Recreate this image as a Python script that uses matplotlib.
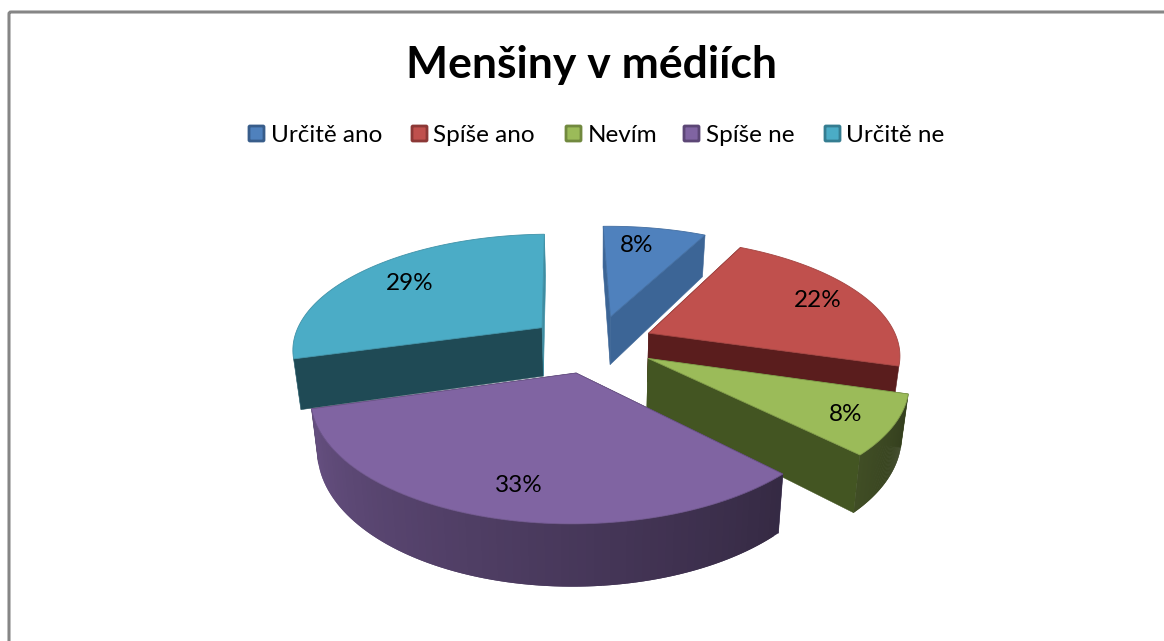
"""Exploded 3D pie: Menšiny v médiích."""

import numpy as np
import matplotlib
matplotlib.use("Agg")
import matplotlib.pyplot as plt
from matplotlib.patches import Polygon, FancyBboxPatch

title = "Menšiny v médiích"
categories = ["Určitě ano", "Spíše ano", "Nevím", "Spíše ne", "Určitě ne"]
values = [8, 22, 8, 33, 29]

top_colors = ["#4f81bd", "#c0504d", "#9bbb59", "#8064a2", "#4bacc6"]
edge_colors = ["#385d8a", "#8c3836", "#71893f", "#5c4776", "#357d91"]
cut_colors = ["#3c6596", "#5a1d1d", "#435522", "#3a2d50", "#1f4a55"]

# back to front
draw_order = [0, 4, 1, 2, 3]

# projection of the pie plane on to the picture, in pixels
CX, CY = 597, 349
R_X, R_Y = 252, 116
PERSP = 0.17
HEIGHT = 50
TAPER = 0.024
START_ANGLE = -1.5
LABEL_R = 0.68
# how far each slice is pulled out, in plane units
slice_offset = [(0.056, 0.29), (0.21, 0.14), (0.20, -0.08), (-0.08, -0.20), (-0.225, 0.19)]
# nudges of the percent labels, in pixels
label_shift = [(-5, -8), (24, -4), (36, 12), (-4, 20), (-10, -3)]
# the side wall only shows on this arc of the rim
WALL_ARC = (106, 255)

plt.rcParams["font.family"] = ["Lato", "DejaVu Sans"]


def project(x, y, z=0.0):
    """Plane coords (x right, y back, z 0..1 downward) to picture pixels."""
    s = 1 / (1 + PERSP * y)
    px = CX + R_X * x * s * (1 - TAPER * z)
    py = CY - R_Y * y * s + HEIGHT * z * s
    return px, py


def wall_shade(deg):
    # side wall gets darker from the left round to the right
    return float(np.clip(0.42 + (deg - 137) / 118 * 0.38, 0.3, 0.85))


def darken(color, f):
    rgb = np.array(matplotlib.colors.to_rgb(color))
    return tuple(rgb * f)


fig = plt.figure(figsize=(11.64, 6.41), dpi=100)
ax = fig.add_axes([0, 0, 1, 1])
ax.set_xlim(0, 1164)
ax.set_ylim(641, 0)
ax.axis("off")

# chart frame, runs off the right and bottom of the picture
ax.add_patch(FancyBboxPatch((9, 12), 1300, 800, boxstyle="round,pad=0,rounding_size=2",
                            fc="white", ec="#868686", lw=2.2, zorder=0))

ax.text(591, 65, title, fontsize=32, fontweight="bold", ha="center", va="center", color="black")

# legend
legend_swatch_x = [248, 411, 565, 683, 824]
legend_text_x = [271, 433, 588, 706, 846]
for i, name in enumerate(categories):
    ax.add_patch(FancyBboxPatch((legend_swatch_x[i] + 1, 126), 15, 15,
                                boxstyle="round,pad=0,rounding_size=1",
                                fc=top_colors[i], ec=edge_colors[i], lw=2.0, zorder=3))
    ax.text(legend_text_x[i], 136, name, fontsize=17.5, ha="left", va="center", color="black")

# slices
fractions = np.array(values) / sum(values)
edges = START_ANGLE + np.concatenate([[0], np.cumsum(fractions) * 360])
z = 10
for i in draw_order:
    a0, a1 = edges[i], edges[i + 1]
    ox, oy = slice_offset[i]
    th = np.linspace(a0, a1, 80)
    rx = ox + np.sin(np.radians(th))
    ry = oy + np.cos(np.radians(th))

    # cut faces; the last slice's closing face is only a lit sliver
    for j in (0, -1):
        col = cut_colors[i]
        if i == len(values) - 1 and j == -1:
            col = darken(top_colors[i], 0.82)
        quad = [project(ox, oy, 0), project(rx[j], ry[j], 0),
                project(rx[j], ry[j], 1), project(ox, oy, 1)]
        ax.add_patch(Polygon(quad, closed=True, fc=col, ec=col, lw=0.4, zorder=z))
        z += 1

    # outer wall, in overlapping strips so that the shade can change
    for k in range(len(th) - 1):
        mid_deg = (th[k] + th[k + 1]) / 2
        if not WALL_ARC[0] <= mid_deg <= WALL_ARC[1]:
            continue
        k2 = min(k + 2, len(th) - 1)
        quad = [project(rx[k], ry[k], 0), project(rx[k2], ry[k2], 0),
                project(rx[k2], ry[k2], 1), project(rx[k], ry[k], 1)]
        col = darken(top_colors[i], wall_shade(mid_deg))
        ax.add_patch(Polygon(quad, closed=True, fc=col, ec="none", zorder=z))
        z += 1

    # top face
    rim = [project(rx[k], ry[k], 0) for k in range(len(th))]
    ax.add_patch(Polygon([project(ox, oy, 0)] + rim, closed=True, fc=top_colors[i],
                         ec=darken(top_colors[i], 0.85), lw=0.6, zorder=z))
    z += 1

# percent labels
for i in range(len(values)):
    mid = np.radians((edges[i] + edges[i + 1]) / 2)
    ox, oy = slice_offset[i]
    px, py = project(ox + LABEL_R * np.sin(mid), oy + LABEL_R * np.cos(mid), 0)
    ax.text(px + label_shift[i][0], py + label_shift[i][1], f"{values[i]}%", fontsize=17.5,
            ha="center", va="center", color="black", zorder=z + 1)

fig.savefig("out.png", dpi=100)
